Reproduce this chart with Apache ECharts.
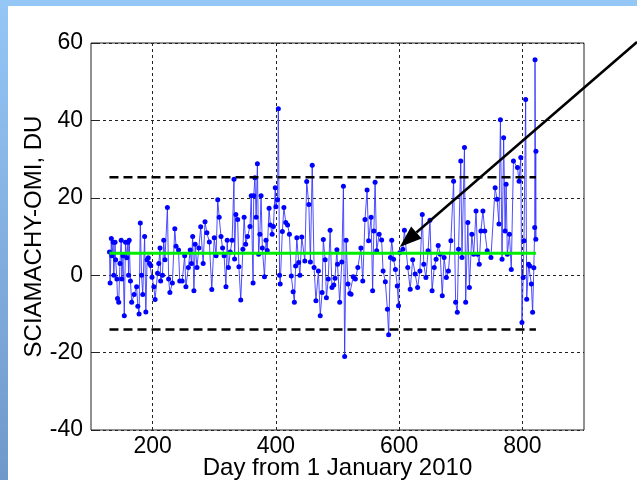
<!DOCTYPE html>
<html>
<head>
<meta charset="utf-8">
<script src="https://cdn.jsdelivr.net/npm/echarts@6/dist/echarts.min.js"></script>
<style>
  html, body { margin: 0; padding: 0; background: #fff; }
  #frameTop { position: absolute; left: 0; top: 0; width: 637px; height: 6px; background: #94c6f6; }
  #frameLeft { position: absolute; left: 0; top: 0; width: 8px; height: 480px;
    background: linear-gradient(to bottom, #94c6f6, #7fabdc 60%, #6f99c8); }
  #main { position: absolute; left: 0; top: 0; width: 637px; height: 480px; }
</style>
</head>
<body>
<div id="frameTop"></div>
<div id="frameLeft"></div>
<div id="main"></div>
<script>
// SCIAMACHY - OMI daily differences (DU)
const days = [
  130,131,133,134,136,137,139,140,142,143,145,147,149,150,152,154,156,158,160,161,162,164,166,170,174,176,178,180,182,184,187,189,191,193,195,197,199,
  202,204,208,210,212,213,216,218,220,224,226,228,232,236,238,242,244,248,252,254,258,261,263,265,267,269,272,275,278,282,285,288,292,296,300,
  303,305.6,308,311,313.5,316,319,321,323,326,329,332,333,335,338,340,343,346.5,348.5,351,354,358,360,363,364,366,368,370,372,374,376,378,381.5,384,386,389,391,394,396,399,400,
  402.6,404,406,407,410.5,413,416,419,422,425,428,430,432,434,437,439,442,447,450,453.5,456,459,462,465,469,472,475,477,480,482,485,488,491,494,496,499,500,
  503.6,507,509.6,511.6,514,517,520,522,525.5,529,533,538,541,544.6,548,550.5,554.5,557,559,561,563.6,567.6,571.6,574,577.6,581,583,586,588,591,594,597,599,601,
  606,608.6,614,618,622,626,630,633.7,637.6,640,643.5,647,650,653.5,657,660,663.4,666.7,670,673,676.6,680,684,688.4,691.7,694.4,696.4,700,
  702,706,708,711.5,714,718,721,724.8,727.4,730,732.7,736,739,743,749,755.8,759,762,764.4,767,769.6,772,773.6,775.6,779,782,785.5,792,794.7,797.4,799.3,801.3,802.6,805.3,807,810,812,814.6,816.6,818.6,820,820.5,821.8,822
];
const diffs = [
  6,-2,9.5,5,8.5,0,8.5,4,-1,-6,-7,3,9,-1,5,-10.5,8.5,4.5,8.5,0,9,-1.5,-7,-5,-3,-8,-10,13.5,0,-5,10,-9.5,4,4.5,3,2.5,-0.5,
  -3,-6.3,0.5,3,7,-1.5,0,9,4,17.5,-1,-4.5,-2,12,7.5,6.5,-1.5,-1.5,5,-3,2,6.5,3,10,-4,8,2,7,12.5,3,13.8,11,8.6,-3.7,9.7,
  5,19.5,15,10,7,5,-3,9,2,6,9,24.8,4.2,15.7,14.4,2.2,-6.4,6.7,15,8,10,12.6,20.5,-2,20.5,25.2,15,28.8,5.4,10.6,20.5,7,-0.4,9,6.4,17.3,13,10.6,12.6,22.6,17.7,
  19.5,43,0,-2.3,11.3,17.5,13.6,13,10.6,-0.2,-4.3,-7,2.4,9.7,3.3,0,9.9,3.7,24.2,18.3,3.4,28.4,2,-6.6,1.1,-10.5,-4.5,9.2,4,-5.8,-1,11.6,-3.2,-2.5,-0.8,6.6,2.8,
  -7,3.4,23,-21,9,-2.3,-4.7,-4.9,-0.4,-1,2,7,-1.5,14.4,22,8.9,15,-4,11.4,24,6.3,10.6,9.1,1.1,-1.7,-8.8,-15.4,4.6,9,4.1,1.5,-2.8,-7.9,5.8,
  6.7,11.6,2,-3.6,4,0.3,-3.2,1.1,15.7,2.8,-0.6,6.3,14.2,-4,2,4.1,7.7,5.4,-5.3,4.6,-0.6,1.1,8.9,24.3,-7,-9.6,6.7,29.5,
  4.6,33,-7,13.6,-3.2,10.6,5.4,16.6,5.4,2.8,11.4,16.6,11.4,6.3,4.6,22.6,19.6,13.2,40.2,4.1,35.5,11.4,23.5,5.4,10.6,1.5,29.5,27.8,24.3,30.4,-12.2,-0.6,8.9,45.4,-6.2,2.8,2.4,-2.3,-9.6,1.9,12.3,55.7,9.3,32
];

const spanDays = [130, 822];   // extent of the reference lines
const meanLevel = 5.7;         // green mean line
const upperLevel = 25.3;       // dashed limits
const lowerLevel = -14;
const xTicks = [200, 400, 600, 800];
const arrowTip = [601, 7.3];

const chartDom = document.getElementById('main');
const myChart = echarts.init(chartDom, null, { renderer: 'canvas' });

const font = 'Liberation Sans, Arial, Helvetica, sans-serif';

let option = {
  backgroundColor: 'transparent',
  animation: false,
  grid: {
    left: 91, right: 53, top: 43, bottom: 50,
    outerBoundsMode: 'none',
    show: true, borderColor: '#222', borderWidth: 1, backgroundColor: 'transparent'
  },
  xAxis: {
    type: 'value',
    min: 100, max: 900,
    name: 'Day from 1 January 2010',
    nameLocation: 'middle',
    nameGap: 26,
    nameMoveOverlap: false,
    nameTextStyle: { fontFamily: font, fontSize: 24, color: '#000' },
    axisLine: { show: false },
    axisTick: { show: true, inside: true, length: 6, lineStyle: { color: '#222' }, customValues: xTicks },
    axisLabel: { fontFamily: font, fontSize: 23, color: '#000', margin: 5, customValues: xTicks },
    splitLine: { show: true, lineStyle: { color: '#222', width: 1, type: [3, 3] } }
  },
  yAxis: {
    type: 'value',
    min: -40, max: 60, interval: 20,
    name: 'SCIAMACHY-OMI, DU',
    nameLocation: 'middle',
    nameGap: 45,
    nameMoveOverlap: false,
    nameTextStyle: { fontFamily: font, fontSize: 24, color: '#000' },
    axisLine: { show: false },
    axisTick: { show: true, inside: true, length: 6, lineStyle: { color: '#222' } },
    axisLabel: { fontFamily: font, fontSize: 23, color: '#000', margin: 8 },
    splitLine: { show: true, lineStyle: { color: '#222', width: 1, type: [3, 3] } }
  },
  series: [
    {
      name: 'difference',
      type: 'line',
      data: days.map((d, i) => [d, diffs[i]]),
      symbol: 'circle',
      symbolSize: 5,
      showSymbol: true,
      itemStyle: { color: '#0000ff' },
      lineStyle: { color: '#2f2fff', width: 1, opacity: 0.85 },
      z: 2
    },
    {
      name: 'mean',
      type: 'line',
      data: spanDays.map(d => [d, meanLevel]),
      symbol: 'none',
      lineStyle: { color: '#00ee00', width: 3 },
      z: 3
    },
    {
      name: 'upper',
      type: 'line',
      data: spanDays.map(d => [d, upperLevel]),
      symbol: 'none',
      lineStyle: { color: '#000', width: 2.5, type: [9, 5] },
      z: 3
    },
    {
      name: 'lower',
      type: 'line',
      data: spanDays.map(d => [d, lowerLevel]),
      symbol: 'none',
      lineStyle: { color: '#000', width: 2.5, type: [9, 5] },
      z: 3
    }
  ]
};

myChart.setOption(option);

// annotation arrow pointing at the data, tail leaves the top right corner
const tip = myChart.convertToPixel({ gridIndex: 0 }, arrowTip);
const tail = [637, 42];
const dx = tip[0] - tail[0], dy = tip[1] - tail[1];
const len = Math.sqrt(dx * dx + dy * dy);
const ux = dx / len, uy = dy / len;
const headLen = 22, headHalf = 8;
const base = [tip[0] - ux * headLen, tip[1] - uy * headLen];
myChart.setOption({
  graphic: [
    {
      type: 'line', z: 10,
      shape: { x1: tail[0], y1: tail[1], x2: base[0], y2: base[1] },
      style: { stroke: '#000', lineWidth: 2.5 }
    },
    {
      type: 'polygon', z: 10,
      shape: { points: [
        tip,
        [base[0] - uy * headHalf, base[1] + ux * headHalf],
        [base[0] + uy * headHalf, base[1] - ux * headHalf]
      ] },
      style: { fill: '#000' }
    }
  ]
});
</script>
</body>
</html>
